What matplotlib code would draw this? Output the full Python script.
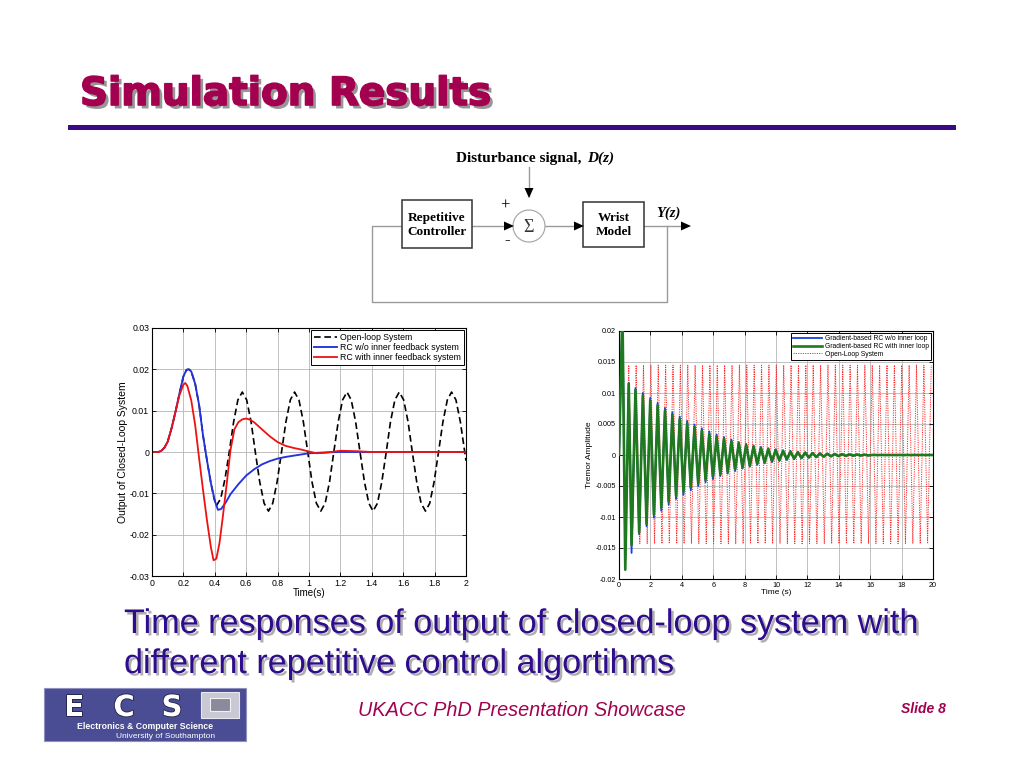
import matplotlib
matplotlib.use('Agg')
import matplotlib.pyplot as plt
import matplotlib.patheffects as pe
from matplotlib.patches import Rectangle, Circle, Polygon
import numpy as np

# ---------------- left panel data ----------------
open_loop_t = [0.0, 0.04, 0.06, 0.08, 0.10, 0.125, 0.15, 0.175, 0.20, 0.22, 0.235, 0.25, 0.275,
               0.30, 0.325, 0.35, 0.375, 0.395, 0.41,
               0.4375, 0.465, 0.492, 0.520, 0.547, 0.575, 0.603, 0.631, 0.658, 0.686, 0.714,
               0.742, 0.769, 0.797, 0.825, 0.853, 0.881, 0.908, 0.936, 0.964, 0.992, 1.019,
               1.047, 1.075, 1.103, 1.131, 1.158, 1.186, 1.214, 1.242, 1.269, 1.297, 1.325,
               1.353, 1.381, 1.408, 1.436, 1.464, 1.492, 1.519, 1.547, 1.575, 1.603, 1.631,
               1.658, 1.686, 1.714, 1.742, 1.769, 1.797, 1.825, 1.853, 1.881, 1.908, 1.936,
               1.964, 1.992, 2.0]
open_loop_v = [0.0, 0.0, 0.0003, 0.0011, 0.0025, 0.0058, 0.0098, 0.0142, 0.0183, 0.0199, 0.0200,
               0.0195, 0.0165, 0.0114, 0.0040, -0.0020,
               -0.0075, -0.0112, -0.0130, -0.0113, -0.0065, 0.0, 0.0073, 0.0126, 0.0145, 0.0126,
               0.0073, 0.0, -0.0072, -0.0124, -0.0143, -0.0124, -0.0072, 0.0, 0.0073, 0.0126,
               0.0145, 0.0126, 0.0073, 0.0, -0.0072, -0.0124, -0.0143, -0.0124, -0.0072, 0.0,
               0.0073, 0.0126, 0.0145, 0.0126, 0.0073, 0.0, -0.0072, -0.0124, -0.0143, -0.0124,
               -0.0072, 0.0, 0.0073, 0.0126, 0.0145, 0.0126, 0.0073, 0.0, -0.0072, -0.0124,
               -0.0143, -0.0124, -0.0072, 0.0, 0.0073, 0.0126, 0.0145, 0.0126, 0.0073, 0.0,
               -0.0021]

rc_plain_t = [0.0, 0.04, 0.06, 0.08, 0.10, 0.125, 0.15, 0.175, 0.20, 0.22, 0.235, 0.25, 0.275,
              0.30, 0.325, 0.35, 0.375, 0.40, 0.42, 0.44, 0.47, 0.50, 0.55, 0.60, 0.65, 0.70,
              0.75, 0.80, 0.85, 0.90, 0.95, 1.0, 1.1, 1.2, 2.0]
rc_plain_v = [0.0, 0.0, 0.0003, 0.0011, 0.0025, 0.0058, 0.0098, 0.0142, 0.0183, 0.0199, 0.0200,
              0.0195, 0.0165, 0.0114, 0.0040, -0.0020, -0.0075, -0.0118, -0.0140, -0.0138,
              -0.0122, -0.0102, -0.0078, -0.0057, -0.0042, -0.0030, -0.0022, -0.0016, -0.0012,
              -0.0009, -0.0006, -0.0003, -0.0001, 0.0, 0.0]

rc_inner_t = [0.0, 0.04, 0.06, 0.08, 0.10, 0.125, 0.15, 0.175, 0.20, 0.212, 0.225, 0.25, 0.275,
              0.30, 0.325, 0.35, 0.375, 0.392, 0.41, 0.43, 0.45, 0.475, 0.50, 0.525, 0.55, 0.575,
              0.60, 0.625, 0.65, 0.70, 0.75, 0.80, 0.85, 0.90, 0.95, 1.0, 1.05, 1.1, 1.2, 1.3,
              1.4, 2.0]
rc_inner_v = [0.0, 0.0, 0.0003, 0.0011, 0.0025, 0.0058, 0.0098, 0.0138, 0.0163, 0.0167, 0.0160,
              0.0125, 0.0065, -0.0015, -0.0092, -0.0165, -0.0230, -0.0262, -0.0258, -0.0220,
              -0.0160, -0.0080, 0.0005, 0.0055, 0.0072, 0.0079, 0.0081, 0.0078, 0.0072, 0.0055,
              0.0038, 0.0024, 0.0015, 0.0010, 0.0006, 0.0001, -0.0003, -0.0002, 0.0003, 0.0002,
              0.0, 0.0]

left_xticks = [0, 0.2, 0.4, 0.6, 0.8, 1.0, 1.2, 1.4, 1.6, 1.8, 2.0]
left_xlabels = ['0', '0.2', '0.4', '0.6', '0.8', '1', '1.2', '1.4', '1.6', '1.8', '2']
left_yticks = [-0.03, -0.02, -0.01, 0, 0.01, 0.02, 0.03]
left_ylabels = ['-0.03', '-0.02', '-0.01', '0', '0.01', '0.02', '0.03']

# ---------------- right panel data: extrema of the traces, x1e-3 ----------------
start_t = [0.0, 0.22, 0.40, 0.62, 0.80]
green_start = [0.0, 23.5, -18.5, 11.5, -14.5]
blue_start = [0.0, 23.5, -17.0, 11.6, -15.8]
osc_first_peak = 1.05
osc_period = 0.47
green_peaks = [10.5, 9.6, 8.8, 8.0, 7.2, 6.5, 5.8, 5.1, 4.5, 3.9, 3.4, 3.0, 2.6, 2.2, 1.9, 1.6,
               1.35, 1.15, 0.95, 0.8, 0.65, 0.55, 0.45, 0.37, 0.30, 0.25, 0.20, 0.16, 0.13,
               0.10, 0.08, 0.06]
green_troughs = [-12.5, -11.1, -9.6, -8.5, -7.5, -6.6, -5.9, -5.2, -4.6, -4.0, -3.5, -3.1,
                 -2.7, -2.3, -2.0, -1.7, -1.4, -1.2, -1.0, -0.85, -0.7, -0.58, -0.48, -0.39,
                 -0.32, -0.26, -0.21, -0.17, -0.14, -0.11, -0.09, -0.07]
blue_peaks = [10.8, 10.0, 9.2, 8.4, 7.6, 6.9, 6.2, 5.5, 4.9, 4.3, 3.8, 3.3, 2.9, 2.5, 2.1, 1.8,
              1.55, 1.3, 1.1, 0.92, 0.77, 0.64, 0.53, 0.44, 0.36, 0.29, 0.23, 0.19, 0.15, 0.12,
              0.09, 0.07]
blue_troughs = [-12.8, -11.5, -10.1, -9.0, -8.0, -7.1, -6.4, -5.7, -5.0, -4.4, -3.9, -3.4,
                -3.0, -2.6, -2.2, -1.9, -1.6, -1.35, -1.15, -0.97, -0.8, -0.66, -0.55, -0.45,
                -0.37, -0.3, -0.24, -0.19, -0.16, -0.13, -0.1, -0.08]
ol_start_t = [0.0, 0.22, 0.40]
ol_start_v = [0.0, 23.5, -18.5]
ol_first_peak = 0.62
ol_peak = 14.5
ol_trough = -14.3

right_xticks = [0, 2, 4, 6, 8, 10, 12, 14, 16, 18, 20]
right_xlabels = ['0', '2', '4', '6', '8', '10', '12', '14', '16', '18', '20']
right_yticks = [-0.02, -0.015, -0.01, -0.005, 0, 0.005, 0.01, 0.015, 0.02]
right_ylabels = ['-0.02', '-0.015', '-0.01', '-0.005', '0', '0.005', '0.01', '0.015', '0.02']


def zigzag(t0, v0, peaks, troughs):
    t = list(t0)
    v = list(v0)
    for k, (p, q) in enumerate(zip(peaks, troughs)):
        t += [osc_first_peak + k * osc_period, osc_first_peak + (k + 0.5) * osc_period]
        v += [p, q]
    t += [t[-1] + 0.25, 20.0]
    v += [0.0, 0.0]
    return np.array(t), np.array(v) * 1e-3


def open_loop_zigzag():
    t = list(ol_start_t)
    v = list(ol_start_v)
    tp = ol_first_peak
    while tp < 20:
        t.append(tp); v.append(ol_peak)
        if tp + osc_period / 2 <= 20:
            t.append(tp + osc_period / 2); v.append(ol_trough)
        tp += osc_period
    return np.array(t), np.array(v) * 1e-3


CRIMSON = '#A3004F'
INDIGO = '#2E0C8C'
SERIF = 'Liberation Serif'
SANS = 'Liberation Sans'

fig = plt.figure(figsize=(10.24, 7.68), dpi=100)
fig.patch.set_facecolor('white')

# full-slide overlay in pixel coordinates
bg = fig.add_axes([0, 0, 1, 1])
bg.set_xlim(0, 1024)
bg.set_ylim(768, 0)
bg.axis('off')

# title + rule (shadow via path effects)
bg.text(80, 105, 'Simulation Results', fontsize=28, fontweight='bold', color=CRIMSON,
        family='DejaVu Sans', va='baseline',
        path_effects=[pe.SimplePatchShadow(offset=(2.5, -2.5), shadow_rgbFace='#8c8c8c',
                                           alpha=0.9),
                      pe.withStroke(linewidth=1.2, foreground=CRIMSON)])
bg.add_patch(Rectangle((68, 125), 888, 5, facecolor='#3B0A87', edgecolor='none'))

# ---------------- block diagram ----------------
LINE = '#9a9a9a'


def head(x, y, d):
    if d == 'right':
        pts = [(x, y), (x - 10, y - 4.5), (x - 10, y + 4.5)]
    else:
        pts = [(x, y), (x - 4.5, y - 10), (x + 4.5, y - 10)]
    bg.add_patch(Polygon(pts, closed=True, facecolor='black', edgecolor='none', zorder=4))


bg.text(456, 162, 'Disturbance signal, ', fontsize=11, fontweight='bold', family=SERIF,
        va='baseline', ha='left')
bg.text(614, 162, 'D(z)', fontsize=11, fontweight='bold', style='italic', family=SERIF,
        va='baseline', ha='right')
bg.plot([529, 529], [167, 196], color=LINE, lw=1)
head(529, 198, 'down')
bg.text(505, 206, '+', fontsize=12, family=SERIF, ha='center', va='center')
bg.add_patch(Circle((529, 226), 16, facecolor='white', edgecolor='#aaaaaa', lw=0.9, zorder=3))
bg.text(529, 227, 'Σ', fontsize=13, family=SERIF, ha='center', va='center', color='#333333',
        zorder=5)

bg.add_patch(Rectangle((402, 200), 70, 48, facecolor='white', edgecolor='#333333', lw=1.1,
                       zorder=3))
bg.text(437, 225, 'Repetitive\nController', fontsize=9.5, fontweight='bold', family=SERIF,
        ha='center', va='center', linespacing=1.25, zorder=5)
bg.add_patch(Rectangle((583, 202), 61, 45, facecolor='white', edgecolor='#333333', lw=1.1,
                       zorder=3))
bg.text(613.5, 225, 'Wrist\nModel', fontsize=9.5, fontweight='bold', family=SERIF,
        ha='center', va='center', linespacing=1.25, zorder=5)

bg.plot([472, 505], [226, 226], color=LINE, lw=1)
head(514, 226, 'right')
bg.text(507, 240, '-', fontsize=12, family=SERIF, ha='center', va='center')
bg.plot([545, 575], [226, 226], color=LINE, lw=1)
head(584, 226, 'right')
bg.plot([644, 682], [226, 226], color=LINE, lw=1)
head(691, 226, 'right')
bg.text(668, 213, 'Y(z)', fontsize=10.5, fontweight='bold', style='italic', family=SERIF,
        ha='center', va='center')
bg.plot([667, 667, 372, 372, 402], [226, 302, 302, 226, 226], color=LINE, lw=1)

# ---------------- left chart ----------------
ax1 = fig.add_axes([152 / 1024, 192 / 768, 314 / 1024, 248 / 768])
ax1.plot(open_loop_t, open_loop_v, color='black', lw=1.2, dashes=(4, 2.2),
         label='Open-loop System')
ax1.plot(rc_plain_t, rc_plain_v, color='#2233dd', lw=1.35, label='RC w/o inner feedback system')
ax1.plot(rc_inner_t, rc_inner_v, color='#ee1111', lw=1.3, label='RC with inner feedback system')
ax1.set_xlim(0, 2)
ax1.set_ylim(-0.03, 0.03)
ax1.set_xticks(left_xticks)
ax1.set_xticklabels(left_xlabels)
ax1.set_yticks(left_yticks)
ax1.set_yticklabels(left_ylabels)
ax1.set_xlabel('Time(s)', fontsize=7, family=SANS, labelpad=0)
ax1.set_ylabel('Output of Closed-Loop System', fontsize=7.5, family=SANS, labelpad=1)
leg1 = ax1.legend(loc='upper right', prop={'family': SANS, 'size': 6.3},
                  handlelength=2.6, handletextpad=0.4, borderpad=0.3, labelspacing=0.15,
                  borderaxespad=0.25, fancybox=False, framealpha=1)
leg1.get_frame().set_edgecolor('black')
leg1.get_frame().set_linewidth(0.7)

# ---------------- right chart ----------------
ax2 = fig.add_axes([619 / 1024, 189 / 768, 314 / 1024, 248 / 768])
tr, vr = open_loop_zigzag()
tb, vb = zigzag(start_t, blue_start, blue_peaks, blue_troughs)
tg, vg = zigzag(start_t, green_start, green_peaks, green_troughs)
red_line, = ax2.plot(tr, vr, color='#ff2a2a', lw=0.7, ls=(0, (1.2, 1.2)), zorder=2,
                     label='Open-Loop System')
blue_line, = ax2.plot(tb, vb, color='#1d3fe0', lw=1.3, zorder=3,
                      label='Gradient-based RC w/o inner loop')
green_line, = ax2.plot(tg, vg, color='#1f7a1f', lw=1.9, zorder=4,
                       label='Gradient-based RC with inner loop')
ax2.set_xlim(0, 20)
ax2.set_ylim(-0.02, 0.02)
ax2.set_xticks(right_xticks)
ax2.set_xticklabels(right_xlabels)
ax2.set_yticks(right_yticks)
ax2.set_yticklabels(right_ylabels)
ax2.set_xlabel('Time (s)', fontsize=6, family=SANS, labelpad=0)
ax2.set_ylabel('Tremor Amplitude', fontsize=6, family=SANS, labelpad=2)
leg2 = ax2.legend(handles=[blue_line, green_line, red_line], loc='upper right',
                  prop={'family': SANS, 'size': 4.9}, handlelength=4.2, handletextpad=0.5,
                  borderpad=0.3, labelspacing=0.12, borderaxespad=0.3, fancybox=False,
                  framealpha=1)
leg2.get_frame().set_edgecolor('black')
leg2.get_frame().set_linewidth(0.7)

for ax, fs in ((ax1, 6.3), (ax2, 5.2)):
    ax.grid(True, color='#b5b5b5', lw=0.6)
    ax.set_axisbelow(True)
    ax.tick_params(direction='in', top=True, right=True, labelsize=fs, length=3, width=0.6,
                   pad=2)
    for lab in ax.get_xticklabels() + ax.get_yticklabels():
        lab.set_family(SANS)
    for s in ax.spines.values():
        s.set_linewidth(0.8)

# ---------------- caption ----------------
caption = ['Time responses of output of closed-loop system with',
           'different repetitive control algortihms']
for i, line in enumerate(caption):
    bg.text(124, 633 + i * 40, line, fontsize=24.6, family=SANS, color=INDIGO, va='baseline',
            path_effects=[pe.SimplePatchShadow(offset=(1.8, -1.8), shadow_rgbFace='#a6a6a6',
                                               alpha=0.9),
                          pe.Normal()])

# ---------------- footer ----------------
bg.add_patch(Rectangle((44, 688), 202, 53, facecolor='#4B4D94', edgecolor='#8f90c0', lw=0.8))
for x, ch in zip([74, 124, 172], 'ECS'):
    bg.text(x, 716, ch, fontsize=21, fontweight='bold', family='DejaVu Sans', color='white',
            ha='center', va='baseline',
            path_effects=[pe.withStroke(linewidth=1.2, foreground='#222244')])
bg.add_patch(Rectangle((201, 692), 38, 26, facecolor='#c9c9d6', edgecolor='#e8e8f0', lw=0.8))
bg.add_patch(Rectangle((210, 698), 20, 13, facecolor='#8a8a9c', edgecolor='#f0f0f0', lw=0.8))
bg.text(145, 729, 'Electronics & Computer Science', fontsize=6.3, fontweight='bold',
        family=SANS, color='white', ha='center', va='baseline')
bg.text(166, 738, 'University of Southampton', fontsize=6, family=SANS, color='white',
        ha='center', va='baseline')

bg.text(522, 716, 'UKACC PhD Presentation Showcase', fontsize=14.3, style='italic',
        family=SANS, color=CRIMSON, ha='center', va='baseline')
bg.text(923, 713, 'Slide 8', fontsize=10, style='italic', fontweight='bold', family=SANS,
        color=CRIMSON, ha='center', va='baseline')

fig.savefig('out.png', dpi=100)
